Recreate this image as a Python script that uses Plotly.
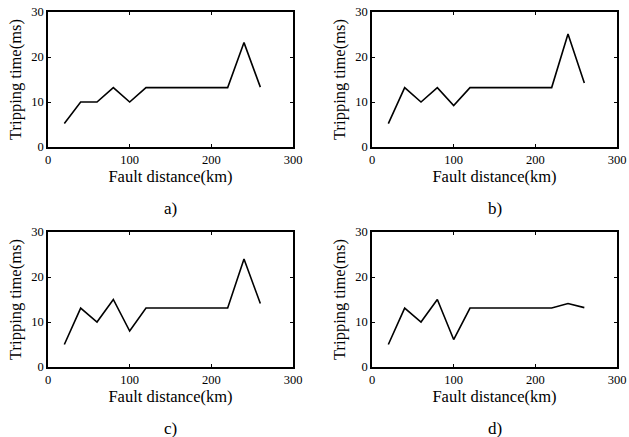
import plotly.graph_objects as go

distance_km = [20, 40, 60, 80, 100, 120, 140, 160, 180, 200, 220, 240, 260]
time_a = [5.2, 10.0, 10.0, 13.2, 10.0, 13.2, 13.2, 13.2, 13.2, 13.2, 13.2, 23.2, 13.3]
time_b = [5.2, 13.2, 10.0, 13.2, 9.2, 13.2, 13.2, 13.2, 13.2, 13.2, 13.2, 25.1, 14.2]
time_c = [5.0, 13.1, 10.0, 15.0, 8.0, 13.1, 13.1, 13.1, 13.1, 13.1, 13.1, 24.0, 14.1]
time_d = [5.0, 13.1, 10.0, 15.0, 6.1, 13.1, 13.1, 13.1, 13.1, 13.1, 13.1, 14.1, 13.2]
panel_labels = ["a)", "b)", "c)", "d)"]
x_ticks = [0, 100, 200, 300]
y_ticks = [0, 10, 20, 30]

W, H = 629, 437
FONT = "Liberation Serif"

# pixel boxes: (left, right, top, bottom)
boxes = [(48, 293, 12, 147), (372, 617, 12, 147), (48, 293, 232, 367), (372, 617, 232, 367)]
series = [time_a, time_b, time_c, time_d]

fig = go.Figure()
annotations = []
for i, (box, ys, lab) in enumerate(zip(boxes, series, panel_labels)):
    l, r, t, b = box
    n = "" if i == 0 else str(i + 1)
    xa, ya = "x" + n, "y" + n
    fig.add_trace(go.Scatter(x=distance_km, y=ys, mode="lines",
                             line=dict(color="black", width=1.6),
                             xaxis=xa, yaxis=ya, showlegend=False, hoverinfo="skip"))
    common = dict(showline=True, linecolor="black", linewidth=1.5, mirror="allticks",
                  ticks="inside", ticklen=3, tickwidth=1, tickcolor="black",
                  showgrid=False, zeroline=False, automargin=False,
                  tickfont=dict(family=FONT, size=12.5, color="black"))
    fig.layout["xaxis" + n] = dict(common, domain=[l / W, r / W], range=[0, 300],
                                   tickvals=x_ticks, anchor=ya,
                                   title=dict(text="Fault distance(km)",
                                              font=dict(family=FONT, size=16.5, color="black"),
                                              standoff=4))
    fig.layout["yaxis" + n] = dict(common, domain=[1 - b / H, 1 - t / H], range=[0, 30],
                                   tickvals=y_ticks, anchor=xa,
                                   title=dict(text="Tripping time(ms)",
                                              font=dict(family=FONT, size=16.5, color="black"),
                                              standoff=5))
    annotations.append(dict(text=lab, x=(l + r) / 2 / W, y=1 - (b + 61) / H,
                            xref="paper", yref="paper", showarrow=False,
                            xanchor="center", yanchor="middle",
                            font=dict(family=FONT, size=17, color="black")))

fig.update_layout(width=W, height=H, margin=dict(l=0, r=0, t=0, b=0),
                  paper_bgcolor="white", plot_bgcolor="white",
                  annotations=annotations)
fig.write_html("out.html", config={"displayModeBar": False},
               post_script="document.body.style.margin='0';document.body.style.padding='0';")
